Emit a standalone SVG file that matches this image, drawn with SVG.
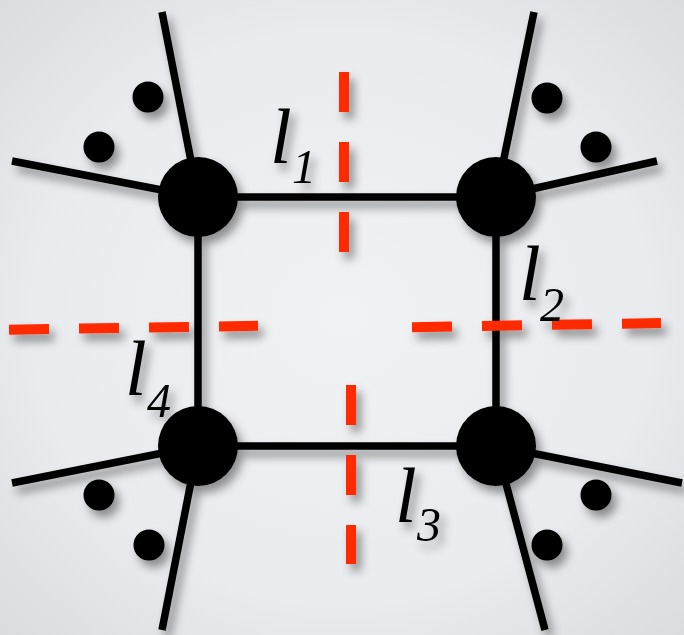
<svg xmlns="http://www.w3.org/2000/svg" width="684" height="635" viewBox="0 0 684 635">
  <defs>
    <radialGradient id="bg" cx="50%" cy="50%" r="75%">
      <stop offset="0" stop-color="#f1f2f4"/>
      <stop offset="0.6" stop-color="#eaebee"/>
      <stop offset="1" stop-color="#d8d9dc"/>
    </radialGradient>
    <filter id="shadow" x="-30%" y="-30%" width="160%" height="160%">
      <feDropShadow dx="5" dy="7" stdDeviation="5" flood-color="#000" flood-opacity="0.4"/>
    </filter>
  </defs>
  <style>
    .edge { stroke: #000; stroke-width: 7.5; fill: none; stroke-linecap: butt; }
    .node { fill: #000; }
    .dot { fill: #000; }
    .cut { stroke: #ff2a00; stroke-width: 10; fill: none; stroke-dasharray: 40 30; }
    .lab { font-family: "Liberation Serif", "Times New Roman", "DejaVu Serif", serif; font-style: italic; fill: #000; }
    .big { font-size: 78px; }
    .sub { font-size: 48px; }
  </style>
  <rect x="0" y="0" width="684" height="635" fill="url(#bg)"/>

  <g filter="url(#shadow)">
    <g id="connectors">
      <line class="edge" x1="198" y1="197" x2="496" y2="197"/>
      <line class="edge" x1="496" y1="197" x2="496" y2="446"/>
      <line class="edge" x1="496" y1="446" x2="198" y2="446"/>
      <line class="edge" x1="198" y1="446" x2="198" y2="197"/>
      <line class="edge" x1="198" y1="197" x2="162" y2="12"/>
      <line class="edge" x1="198" y1="197" x2="12" y2="161"/>
      <line class="edge" x1="496" y1="197" x2="534" y2="12"/>
      <line class="edge" x1="496" y1="197" x2="657" y2="161"/>
      <line class="edge" x1="198" y1="446" x2="12" y2="483"/>
      <line class="edge" x1="198" y1="446" x2="162" y2="630"/>
      <line class="edge" x1="496" y1="446" x2="682" y2="483"/>
      <line class="edge" x1="496" y1="446" x2="545" y2="630"/>
    </g>

    <g id="node-tl"><circle class="node" cx="198" cy="197" r="40"/></g>
    <g id="node-tr"><circle class="node" cx="496" cy="197" r="40"/></g>
    <g id="node-bl"><circle class="node" cx="198" cy="446" r="40"/></g>
    <g id="node-br"><circle class="node" cx="496" cy="446" r="40"/></g>

    <g id="dots-tl"><circle class="dot" cx="148" cy="97" r="15.5"/><circle class="dot" cx="99" cy="147" r="15.5"/></g>
    <g id="dots-tr"><circle class="dot" cx="547" cy="98" r="15.5"/><circle class="dot" cx="596" cy="147" r="15.5"/></g>
    <g id="dots-bl"><circle class="dot" cx="99" cy="495" r="15.5"/><circle class="dot" cx="149" cy="545" r="15.5"/></g>
    <g id="dots-br"><circle class="dot" cx="596" cy="495" r="15.5"/><circle class="dot" cx="547" cy="545" r="15.5"/></g>

    <g id="cuts">
      <line class="cut" x1="344" y1="72" x2="344" y2="252"/>
      <line class="cut" x1="351" y1="385" x2="351" y2="564"/>
      <line class="cut" x1="9" y1="329.7" x2="258" y2="325.8"/>
      <line class="cut" x1="412" y1="327.2" x2="661" y2="323"/>
    </g>

    <g id="labels">
      <text class="lab big" x="270" y="163">l</text><text class="lab sub" x="292" y="183">1</text>
      <text class="lab big" x="519" y="300">l</text><text class="lab sub" x="540" y="321">2</text>
      <text class="lab big" x="125" y="395">l</text><text class="lab sub" x="147" y="417">4</text>
      <text class="lab big" x="395" y="522">l</text><text class="lab sub" x="417" y="541">3</text>
    </g>
  </g>
</svg>
